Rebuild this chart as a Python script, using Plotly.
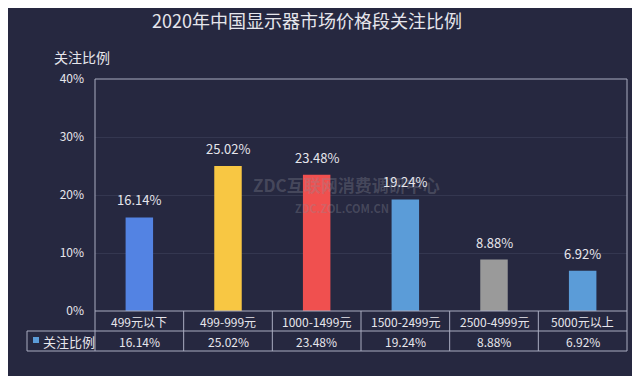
import plotly.graph_objects as go

categories = ["499元以下", "499-999元", "1000-1499元", "1500-2499元", "2500-4999元", "5000元以上"]
values = [16.14, 25.02, 23.48, 19.24, 8.88, 6.92]
value_labels = ["16.14%", "25.02%", "23.48%", "19.24%", "8.88%", "6.92%"]
bar_colors = ["#5383E3", "#F8C743", "#F0504F", "#5B9CD8", "#9A9A9A", "#5B9CD8"]
y_ticks = [0, 10, 20, 30, 40]
y_tick_labels = ["0%", "10%", "20%", "30%", "40%"]
title = "2020年中国显示器市场价格段关注比例"
series_name = "关注比例"
watermark_1 = "ZDC互联网消费调研中心"
watermark_2 = "ZDC.ZOL.COM.CN"

# page body has an 8px default margin; work in window pixels and compensate
OFF = 8
W, H = 640 - OFF, 376 - OFF
L, R, T, B = 95, 627, 79, 311   # plot area in window pixels
BG = "#262840"
LINE = "#A9ACC0"
TXT = "#E6E6EC"
FONT = "Noto Sans CJK SC"
WM = "rgba(140,140,152,0.33)"

def py(p):  # window pixel y -> paper y
    return (B - p) / (B - T)

def px(p):  # window pixel x -> paper x
    return (p - L) / (R - L)

fig = go.Figure()
fig.add_trace(go.Bar(
    x=list(range(len(categories))), y=values,
    marker=dict(color=bar_colors, line=dict(width=0)),
    width=0.31, name=series_name, showlegend=False,
    hoverinfo="skip",
))

shapes = []
shapes.append(dict(type="rect", xref="paper", yref="paper", x0=0, x1=1, y0=0, y1=1,
                   line=dict(color=LINE, width=1)))
for yy in (331, 351):
    shapes.append(dict(type="line", xref="paper", yref="paper", x0=px(27), x1=1, y0=py(yy), y1=py(yy), line=dict(color=LINE, width=1)))
shapes.append(dict(type="line", xref="paper", yref="paper", x0=px(27), x1=px(27), y0=py(331), y1=py(351), line=dict(color=LINE, width=1)))
for xx in (0, 1):
    shapes.append(dict(type="line", xref="paper", yref="paper", x0=xx, x1=xx, y0=0, y1=py(351), line=dict(color=LINE, width=1)))
for i in range(1, len(categories)):
    shapes.append(dict(type="line", xref="x", yref="paper", x0=i - 0.5, x1=i - 0.5, y0=0, y1=py(351), line=dict(color=LINE, width=1)))
shapes.append(dict(type="rect", xref="paper", yref="paper", x0=px(33), x1=px(39), y0=py(337), y1=py(343),
                   fillcolor="#5B9CD8", line=dict(width=0)))

annotations = []
# watermark (drawn first, beneath the labels)
annotations.append(dict(x=px(346), y=py(184), xref="paper", yref="paper", text="<b>" + watermark_1 + "</b>", showarrow=False,
                        font=dict(size=17, color=WM, family=FONT)))
annotations.append(dict(x=px(342), y=py(208), xref="paper", yref="paper", text="<b>" + watermark_2 + "</b>", showarrow=False,
                        font=dict(size=11, color=WM, family=FONT)))
for i, (v, lab, cat) in enumerate(zip(values, value_labels, categories)):
    annotations.append(dict(x=i, y=v, xref="x", yref="y", text=lab, showarrow=False,
                            yanchor="bottom", yshift=6, font=dict(size=13, color=TXT, family=FONT)))
    annotations.append(dict(x=i, y=py(321), xref="x", yref="paper", text=cat, showarrow=False,
                            yanchor="middle", font=dict(size=12, color=TXT, family=FONT)))
    annotations.append(dict(x=i, y=py(341), xref="x", yref="paper", text=lab, showarrow=False,
                            yanchor="middle", font=dict(size=12, color=TXT, family=FONT)))
annotations.append(dict(x=px(41), y=py(341), xref="paper", yref="paper", text=series_name, showarrow=False,
                        xanchor="left", yanchor="middle", font=dict(size=13, color=TXT, family=FONT)))
annotations.append(dict(x=px(52), y=py(57), xref="paper", yref="paper", text=series_name, showarrow=False,
                        xanchor="left", yanchor="middle", font=dict(size=14, color=TXT, family=FONT)))

fig.update_layout(
    width=W, height=H,
    margin=dict(l=L - OFF, r=640 - R, t=T - OFF, b=376 - B, pad=0, autoexpand=False),
    paper_bgcolor=BG, plot_bgcolor=BG,
    title=dict(text=title, x=(307 - OFF) / W, xanchor="center", y=1 - (22 - OFF) / H, yanchor="middle",
               font=dict(size=18, color=TXT, family=FONT)),
    xaxis=dict(range=[-0.5, len(categories) - 0.5], showticklabels=False, showgrid=False,
               zeroline=False, showline=False, ticks="", fixedrange=True, automargin=False),
    yaxis=dict(range=[0, 40], tickvals=y_ticks, ticktext=y_tick_labels, showgrid=True,
               gridcolor="#343750", gridwidth=1, zeroline=False, showline=False, ticks="",
               ticklabelstandoff=10, automargin=False,
               tickfont=dict(size=12, color=TXT, family=FONT), fixedrange=True),
    shapes=shapes, annotations=annotations, bargap=0.69, showlegend=False,
)

fig.write_html("out.html")
